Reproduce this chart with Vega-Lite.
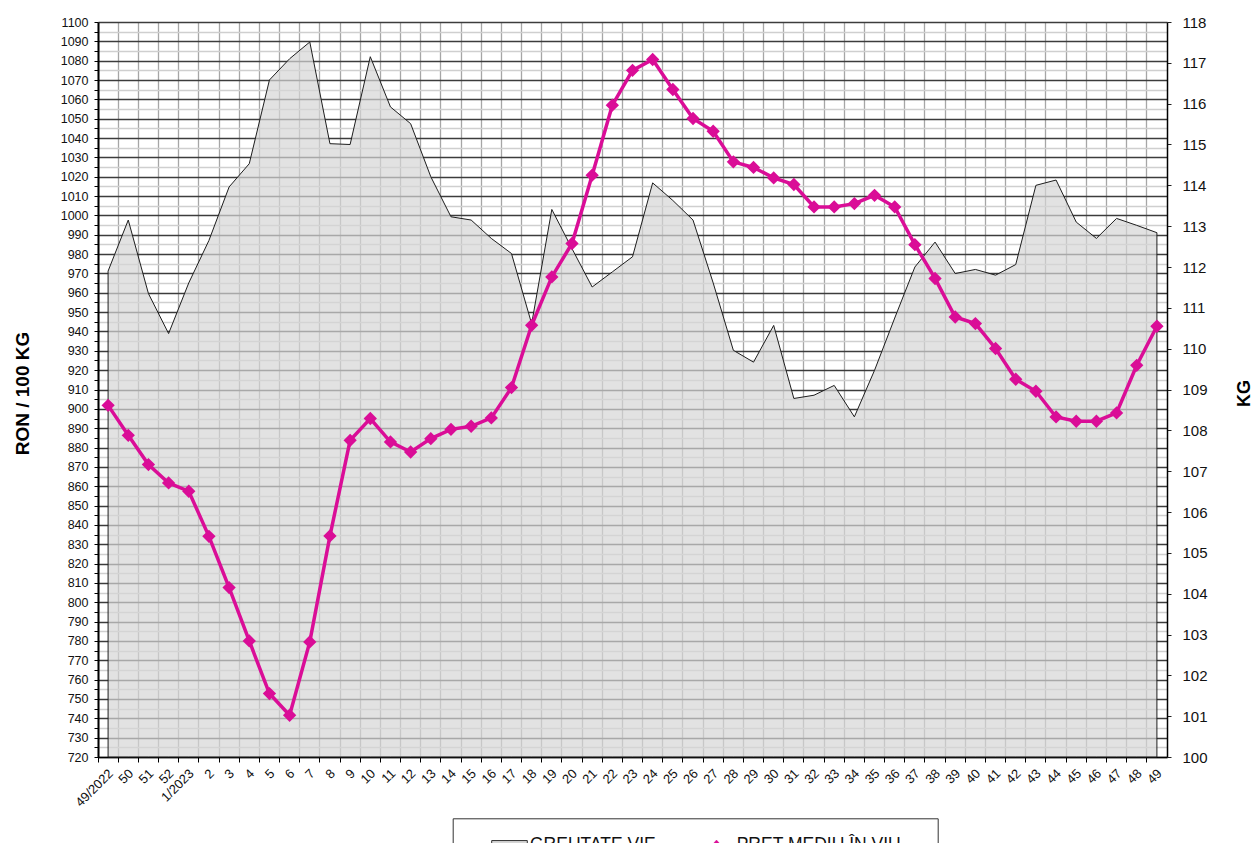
{
  "$schema": "https://vega.github.io/schema/vega-lite/v6.json",
  "width": 1069,
  "height": 735,
  "autosize": {"type": "none"},
  "padding": {"left": 98, "top": 22, "right": 87, "bottom": 86},
  "background": "#ffffff",
  "config": {"view": {"stroke": null}, "font": "Liberation Sans"},
  "data": {"values": [
    {"w": "49/2022", "kg": 111.90, "p": 901.8},
    {"w": "50", "kg": 113.15, "p": 886.3},
    {"w": "51", "kg": 111.35, "p": 871.2},
    {"w": "52", "kg": 110.37, "p": 861.7},
    {"w": "1/2023", "kg": 111.61, "p": 857.4},
    {"w": "2", "kg": 112.65, "p": 834.1},
    {"w": "3", "kg": 113.96, "p": 807.6},
    {"w": "4", "kg": 114.53, "p": 780.0},
    {"w": "5", "kg": 116.58, "p": 752.8},
    {"w": "6", "kg": 117.10, "p": 741.6},
    {"w": "7", "kg": 117.51, "p": 779.5},
    {"w": "8", "kg": 115.02, "p": 834.3},
    {"w": "9", "kg": 115.00, "p": 883.7},
    {"w": "10", "kg": 117.15, "p": 895.0},
    {"w": "11", "kg": 115.92, "p": 882.9},
    {"w": "12", "kg": 115.51, "p": 877.7},
    {"w": "13", "kg": 114.21, "p": 884.6},
    {"w": "14", "kg": 113.23, "p": 889.4},
    {"w": "15", "kg": 113.15, "p": 891.0},
    {"w": "16", "kg": 112.70, "p": 895.3},
    {"w": "17", "kg": 112.33, "p": 911.0},
    {"w": "18", "kg": 110.61, "p": 943.2},
    {"w": "19", "kg": 113.41, "p": 968.2},
    {"w": "20", "kg": 112.45, "p": 985.5},
    {"w": "21", "kg": 111.51, "p": 1020.8},
    {"w": "22", "kg": 111.88, "p": 1057.0},
    {"w": "23", "kg": 112.25, "p": 1075.0},
    {"w": "24", "kg": 114.06, "p": 1080.6},
    {"w": "25", "kg": 113.63, "p": 1065.1},
    {"w": "26", "kg": 113.15, "p": 1050.1},
    {"w": "27", "kg": 111.61, "p": 1043.5},
    {"w": "28", "kg": 109.96, "p": 1027.7},
    {"w": "29", "kg": 109.67, "p": 1024.8},
    {"w": "30", "kg": 110.57, "p": 1019.4},
    {"w": "31", "kg": 108.78, "p": 1016.0},
    {"w": "32", "kg": 108.86, "p": 1004.4},
    {"w": "33", "kg": 109.10, "p": 1004.4},
    {"w": "34", "kg": 108.33, "p": 1006.1},
    {"w": "35", "kg": 109.47, "p": 1010.4},
    {"w": "36", "kg": 110.75, "p": 1004.4},
    {"w": "37", "kg": 112.00, "p": 984.9},
    {"w": "38", "kg": 112.61, "p": 967.4},
    {"w": "39", "kg": 111.84, "p": 947.5},
    {"w": "40", "kg": 111.94, "p": 944.1},
    {"w": "41", "kg": 111.80, "p": 931.2},
    {"w": "42", "kg": 112.06, "p": 915.3},
    {"w": "43", "kg": 114.00, "p": 909.1},
    {"w": "44", "kg": 114.13, "p": 895.8},
    {"w": "45", "kg": 113.10, "p": 893.6},
    {"w": "46", "kg": 112.70, "p": 893.6},
    {"w": "47", "kg": 113.19, "p": 897.9},
    {"w": "48", "kg": 113.02, "p": 922.5},
    {"w": "49", "kg": 112.84, "p": 942.7}
  ]},
  "encoding": {
    "x": {
      "field": "w", "type": "nominal", "sort": null,
      "scale": {"type": "band", "paddingInner": 0, "paddingOuter": 0},
      "axis": {
        "title": null, "bandPosition": 0, "labelAngle": -45, "labelAlign": "right", "labelBaseline": "middle",
        "labelOffset": 3, "labelPadding": 9, "tickSize": 5, "tickColor": "#000", "tickWidth": 1,
        "domainColor": "#000", "domainWidth": 1.5, "grid": true, "gridColor": "#a6a6a6", "gridWidth": 1.3,
        "labelFont": "Liberation Sans", "labelFontSize": 13, "labelColor": "#111", "labelOverlap": false, "labelBound": false
      }
    }
  },
  "layer": [
    {
      "mark": {"type": "area", "fillOpacity": 0.7, "stroke": "#1e1e1e", "strokeWidth": 1, "strokeOpacity": 1},
      "encoding": {
        "y": {
          "field": "kg", "type": "quantitative",
          "scale": {"domain": [100, 118], "zero": false, "nice": false},
          "axis": {
            "orient": "right", "title": "KG", "grid": false, "format": "d",
            "values": [100,101,102,103,104,105,106,107,108,109,110,111,112,113,114,115,116,117,118],
            "tickSize": 4, "tickColor": "#222222",
            "labelPadding": 11, "labelFont": "Liberation Sans", "labelFontSize": 15, "labelColor": "#111",
            "domainColor": "#000", "domainWidth": 1.5, "labelOverlap": false,
            "titleFont": "Liberation Sans", "titleFontSize": 18, "titleFontWeight": "bold", "titleColor": "#000",
            "titleAngle": 270, "titleAlign": "center", "titleBaseline": "middle", "titleX": 77, "titleY": 371
          }
        },
        "y2": {"datum": 100},
        "fill": {
          "datum": "GREUTATE VIE",
          "scale": {"domain": ["GREUTATE VIE"], "range": ["#d5d5d5"]},
          "legend": {
            "orient": "none", "legendX": 354.7, "legendY": 796.3,
            "title": "\u00a0", "titleOrient": "right", "titlePadding": 264, "titleFontSize": 17.5,
            "padding": 18, "strokeColor": "#333333",
            "symbolType": "M2.45,-0.9H9.57V0.9H2.45Z", "symbolSize": 100,
            "symbolStrokeColor": "#333333", "symbolStrokeWidth": 1, "symbolOpacity": 1,
            "labelOffset": 41.8, "labelFont": "Liberation Sans", "labelFontSize": 17.5, "labelColor": "#111", "labelLimit": 400
          }
        }
      }
    },
    {
      "mark": {"type": "line", "strokeWidth": 3.5, "point": {"shape": "diamond", "size": 110, "filled": true, "color": "#da0d97"}},
      "encoding": {
        "y": {
          "field": "p", "type": "quantitative",
          "scale": {"domain": [720, 1100], "zero": false, "nice": false},
          "axis": {
            "orient": "left", "title": "RON / 100 KG", "format": "d",
            "values": [720,725,730,735,740,745,750,755,760,765,770,775,780,785,790,795,800,805,810,815,820,825,830,835,840,845,850,855,860,865,870,875,880,885,890,895,900,905,910,915,920,925,930,935,940,945,950,955,960,965,970,975,980,985,990,995,1000,1005,1010,1015,1020,1025,1030,1035,1040,1045,1050,1055,1060,1065,1070,1075,1080,1085,1090,1095,1100],
            "labelExpr": "datum.value % 10 === 0 ? datum.label : ''",
            "grid": true,
            "gridColor": {"condition": {"test": "datum.value % 10 === 0", "value": "#3c3c3c"}, "value": "#cfcfcf"},
            "gridWidth": 1.3,
            "tickSize": 4, "tickColor": "#000", "labelPadding": 6,
            "labelFont": "Liberation Sans", "labelFontSize": 12.5, "labelColor": "#111",
            "domainColor": "#000", "domainWidth": 2, "labelOverlap": false,
            "titleFont": "Liberation Sans", "titleFontSize": 19, "titleFontWeight": "bold", "titleColor": "#000",
            "titleAngle": 270, "titleAlign": "center", "titleBaseline": "middle", "titleX": -76, "titleY": 371
          }
        },
        "stroke": {
          "datum": "PRET MEDIU ÎN VIU",
          "scale": {"domain": ["PRET MEDIU ÎN VIU"], "range": ["#da0d97"]},
          "legend": {
            "orient": "none", "legendX": 591.75, "legendY": 796.3, "title": null,
            "padding": 18,
            "symbolType": "M-3.7,-0.3H3.7V0.3H-3.7Z M0,-1L0.9,0L0,1L-0.9,0Z", "symbolSize": 100,
            "symbolFillColor": "#da0d97", "symbolStrokeColor": "#da0d97", "symbolStrokeWidth": 0.5, "symbolOpacity": 1,
            "labelOffset": 11.45, "labelFont": "Liberation Sans", "labelFontSize": 17.5, "labelColor": "#111", "labelLimit": 400
          }
        }
      }
    }
  ],
  "resolve": {"scale": {"y": "independent"}}
}
